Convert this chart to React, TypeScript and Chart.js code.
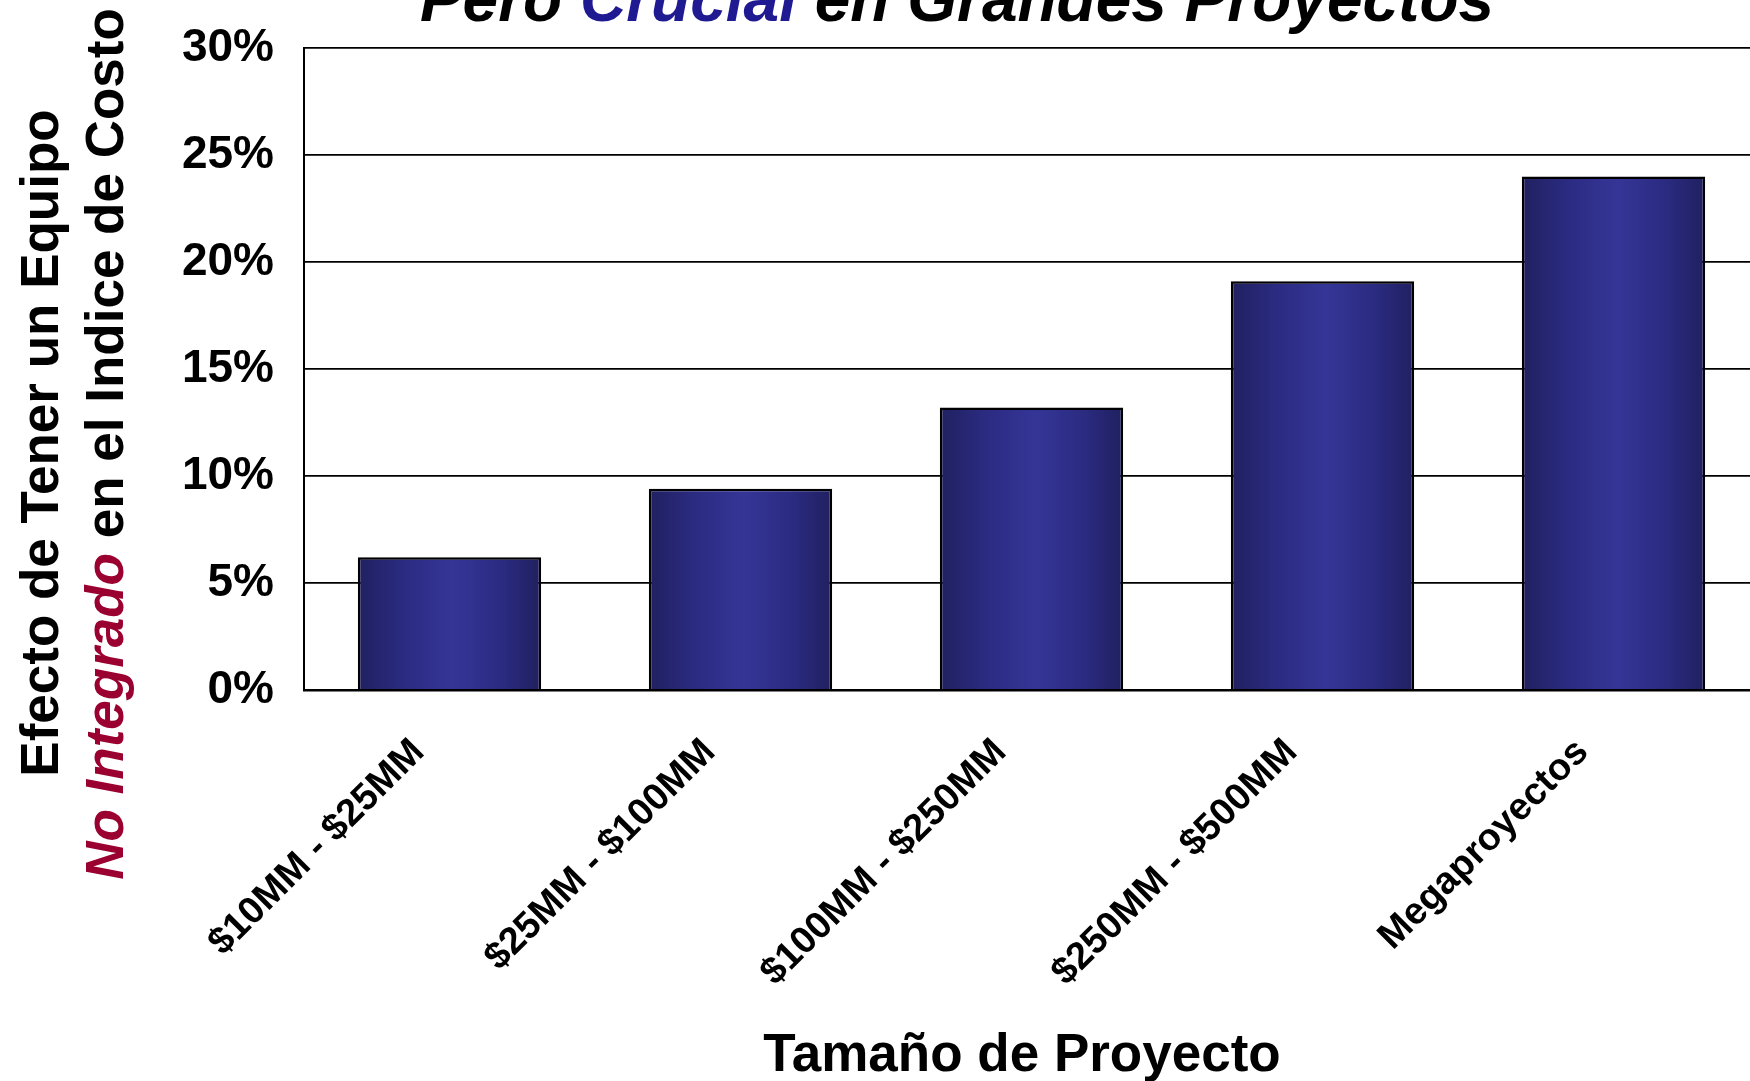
import React, { useEffect, useRef } from "react";
import { Chart, registerables } from "chart.js";

Chart.register(...registerables);

// Project size buckets and the cost-index penalty of a non-integrated team (%)
const categories = [
  "$10MM - $25MM",
  "$25MM - $100MM",
  "$100MM - $250MM",
  "$250MM - $500MM",
  "Megaproyectos",
];
const costEffect = [6.2, 9.4, 13.2, 19.1, 24.0];

const yMin = 0;
const yMax = 30;
const yStep = 5;

const headingRuns = [
  { text: "Pero ", color: "#000000" },
  { text: "Crucial", color: "#1f1a92" },
  { text: " en Grandes Proyectos", color: "#000000" },
];
const yTitleLine1 = [{ text: "Efecto de Tener un Equipo", color: "#000000", italic: false }];
const yTitleLine2 = [
  { text: "No Integrado", color: "#9a0030", italic: true },
  { text: " en el Indice de Costo", color: "#000000", italic: false },
];
const xTitle = "Tamaño de Proyecto";

const FONT = '"Liberation Sans", Arial, Helvetica, sans-serif';
const CANVAS_W = 1780;
const CANVAS_H = 1081;
const BAR_PCT = 0.63;

type Run = { text: string; color: string; italic?: boolean };

function drawRuns(
  ctx: CanvasRenderingContext2D,
  runs: Run[],
  size: number,
  cx: number,
  baseline: number,
  allItalic = false
) {
  const fontFor = (r: Run) => `${allItalic || r.italic ? "italic " : ""}bold ${size}px ${FONT}`;
  let total = 0;
  const widths = runs.map((r) => {
    ctx.font = fontFor(r);
    const w = ctx.measureText(r.text).width;
    total += w;
    return w;
  });
  let x = cx - total / 2;
  ctx.textAlign = "left";
  ctx.textBaseline = "alphabetic";
  runs.forEach((r, i) => {
    ctx.font = fontFor(r);
    ctx.fillStyle = r.color;
    ctx.fillText(r.text, x, baseline);
    x += widths[i];
  });
}

const titlesPlugin = {
  id: "titles",
  afterDraw(chart: any) {
    const ctx: CanvasRenderingContext2D = chart.ctx;
    ctx.save();
    // heading (only its lower line shows at the top edge)
    drawRuns(ctx, headingRuns, 64, 957, 21, true);

    // two-line rotated value-axis title
    ctx.save();
    ctx.translate(58, 443);
    ctx.rotate(-Math.PI / 2);
    drawRuns(ctx, yTitleLine1, 53, 0, 0);
    ctx.restore();

    ctx.save();
    ctx.translate(123, 444);
    ctx.rotate(-Math.PI / 2);
    drawRuns(ctx, yTitleLine2, 53, 0, 0);
    ctx.restore();

    // category-axis title
    drawRuns(ctx, [{ text: xTitle, color: "#000000" }], 53, 1022, 1071);
    ctx.restore();
  },
};

function barGradient(c: any) {
  const chart = c.chart;
  const xs = chart.scales && chart.scales.x;
  if (!xs || c.type !== "data" || !chart.chartArea) return "#2c2c80";
  const cx = xs.getPixelForValue(c.dataIndex);
  const w = (xs.width / categories.length) * BAR_PCT;
  const g = chart.ctx.createLinearGradient(cx - w / 2, 0, cx + w / 2, 0);
  g.addColorStop(0, "#202060");
  g.addColorStop(0.25, "#2b2b82");
  g.addColorStop(0.52, "#353597");
  g.addColorStop(0.78, "#2b2b82");
  g.addColorStop(1, "#202060");
  return g;
}

export default function App() {
  const canvasRef = useRef<HTMLCanvasElement | null>(null);

  useEffect(() => {
    const canvas = canvasRef.current;
    if (!canvas) return;
    const chart = new Chart(canvas, {
      type: "bar",
      data: {
        labels: categories,
        datasets: [
          {
            data: costEffect,
            backgroundColor: barGradient,
            borderColor: "#000000",
            borderWidth: 2.5,
            categoryPercentage: 1,
            barPercentage: BAR_PCT,
          },
        ],
      },
      options: {
        responsive: false,
        animation: false,
        devicePixelRatio: 1,
        layout: { padding: { top: 48, right: CANVAS_W - 1759, left: 0, bottom: 0 } },
        plugins: {
          legend: { display: false },
          tooltip: { enabled: false },
          title: { display: false },
        },
        scales: {
          x: {
            grid: { display: false, drawTicks: false },
            border: { display: true, color: "#000000", width: 2.5 },
            ticks: {
              autoSkip: false,
              minRotation: 45,
              maxRotation: 45,
              padding: 40,
              labelOffset: -31,
              color: "#000000",
              font: { family: FONT, size: 38, weight: "bold" },
            },
            afterFit(scale: any) {
              scale.height = CANVAS_H - 690;
            },
          },
          y: {
            min: yMin,
            max: yMax,
            ticks: {
              stepSize: yStep,
              padding: 30,
              color: "#000000",
              font: { family: FONT, size: 46, weight: "bold" },
              callback: (v: any) => `${v}%`,
            },
            grid: { color: "#000000", lineWidth: 1.8, drawTicks: false },
            border: { display: true, color: "#000000", width: 2 },
            afterFit(scale: any) {
              scale.width = 304;
              scale.paddingTop = 0;
              scale.paddingBottom = 0;
            },
          },
        },
      },
      plugins: [titlesPlugin],
    });
    return () => chart.destroy();
  }, []);

  return (
    <div
      style={{
        position: "fixed",
        left: 0,
        top: 0,
        width: 1750,
        height: CANVAS_H,
        overflow: "hidden",
        background: "#ffffff",
      }}
    >
      <canvas
        ref={canvasRef}
        width={CANVAS_W}
        height={CANVAS_H}
        style={{ display: "block", width: CANVAS_W, height: CANVAS_H }}
      />
    </div>
  );
}
